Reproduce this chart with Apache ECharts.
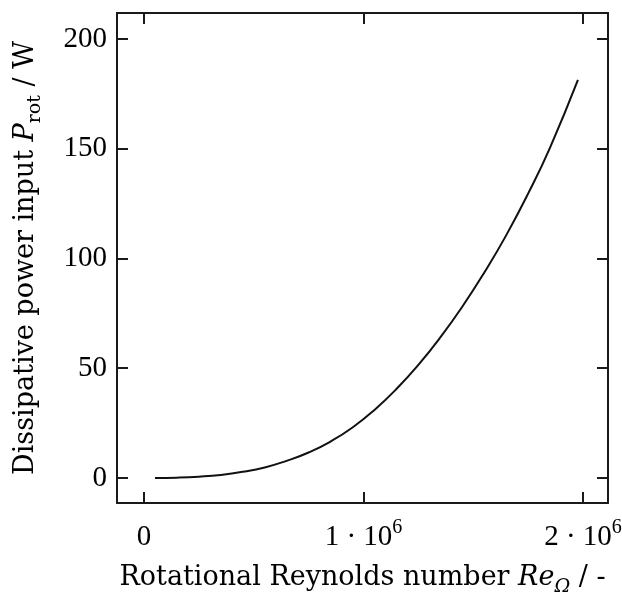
<!DOCTYPE html>
<html>
<head>
<meta charset="utf-8">
<script src="https://cdn.jsdelivr.net/npm/echarts@6/dist/echarts.min.js"></script>
<style>html,body{margin:0;padding:0;background:#fff}#c{width:622px;height:592px}</style>
</head>
<body>
<div id="c"></div>
<script>
// Rotational Reynolds number (x) and dissipative power input in W (y)
const reynolds = [0.05e6, 0.15e6, 0.25e6, 0.35e6, 0.45e6, 0.55e6, 0.65e6, 0.75e6, 0.85e6, 0.95e6, 1.05e6, 1.15e6, 1.25e6, 1.35e6, 1.45e6, 1.55e6, 1.65e6, 1.75e6, 1.85e6, 1.977e6];
const power    = [0.0,    0.15,   0.6,    1.4,    2.8,    4.8,    7.8,    11.6,   16.6,   23.0,   31.0,   40.5,   51.5,   64.0,   78.0,   93.5,   110.5,  129.5,  150.5,  181.3];
const xTicks = [0, 1e6, 2e6];
const yTicks = [0, 50, 100, 150, 200];

const TFONT = 'Liberation Serif';
const NFONT = 'DejaVu Serif';
const TFS = 29;
const NFS = 27;
const chart = echarts.init(document.getElementById('c'), null, {renderer: 'canvas'});
const lineStyle = {color: '#1a1a1a', width: 2};
const tickStyle = {color: '#1a1a1a', width: 2};

function xLabel(v) {
  if (v === 0) return '{a|0}';
  const m = Math.round(v / 1e6);
  return '{a|' + m + ' · 10}{s|6}';
}

chart.setOption({
  animation: false,
  backgroundColor: '#fff',
  grid: {left: 117, top: 13, right: 14, bottom: 89, containLabel: false, outerBoundsMode: 'none'},
  xAxis: [{
    type: 'value', position: 'bottom', min: -0.123e6, max: 2.114e6,
    axisLine: {show: true, onZero: false, lineStyle: lineStyle},
    axisTick: {show: true, inside: true, length: 11, lineStyle: tickStyle, customValues: xTicks},
    axisLabel: {
      customValues: xTicks, margin: 18, formatter: xLabel, hideOverlap: false,
      rich: {
        a: {fontFamily: TFONT, fontSize: TFS, color: '#000', lineHeight: 32},
        s: {fontFamily: TFONT, fontSize: 20, color: '#000', lineHeight: 32, verticalAlign: 'bottom', padding: [0, 0, 15, 0]}
      }
    },
    splitLine: {show: false},
    name: '{n|Rotational Reynolds number }{i|Re}{si|Ω}{n| / -}',
    nameLocation: 'middle', nameGap: 58,
    nameTextStyle: {
      rich: {
        n: {fontFamily: NFONT, fontSize: NFS, color: '#000', lineHeight: 34},
        i: {fontFamily: NFONT, fontSize: NFS, fontStyle: 'italic', color: '#000', lineHeight: 34},
        si: {fontFamily: NFONT, fontSize: 19, fontStyle: 'italic', color: '#000', lineHeight: 34, verticalAlign: 'bottom', padding: [0, 0, -2, 0]}
      }
    }
  }, {
    type: 'value', position: 'top', min: -0.123e6, max: 2.114e6,
    axisLine: {show: true, onZero: false, lineStyle: lineStyle},
    axisTick: {show: true, inside: true, length: 11, lineStyle: tickStyle, customValues: xTicks},
    axisLabel: {show: false},
    splitLine: {show: false}
  }],
  yAxis: [{
    type: 'value', position: 'left', min: -11.4, max: 211.8,
    axisLine: {show: true, onZero: false, lineStyle: lineStyle},
    axisTick: {show: true, inside: true, length: 11, lineStyle: tickStyle, customValues: yTicks},
    axisLabel: {customValues: yTicks, margin: 10, fontFamily: TFONT, fontSize: TFS, color: '#000'},
    splitLine: {show: false},
    name: '{n|Dissipative power input }{i|P}{s|rot}{n| / W}',
    nameLocation: 'middle', nameGap: 74, nameRotate: 90,
    nameTextStyle: {
      rich: {
        n: {fontFamily: NFONT, fontSize: NFS, color: '#000', lineHeight: 34},
        i: {fontFamily: NFONT, fontSize: NFS, fontStyle: 'italic', color: '#000', lineHeight: 34},
        s: {fontFamily: NFONT, fontSize: 19, color: '#000', lineHeight: 34, verticalAlign: 'bottom', padding: [0, 0, -2, 0]}
      }
    }
  }, {
    type: 'value', position: 'right', min: -11.4, max: 211.8,
    axisLine: {show: true, onZero: false, lineStyle: lineStyle},
    axisTick: {show: true, inside: true, length: 11, lineStyle: tickStyle, customValues: yTicks},
    axisLabel: {show: false},
    splitLine: {show: false}
  }],
  series: [{
    type: 'line', xAxisIndex: 0, yAxisIndex: 0,
    data: reynolds.map((r, i) => [r, power[i]]),
    smooth: 0.5, showSymbol: false, symbol: 'none',
    lineStyle: {color: '#111', width: 2}
  }]
});
</script>
</body>
</html>
